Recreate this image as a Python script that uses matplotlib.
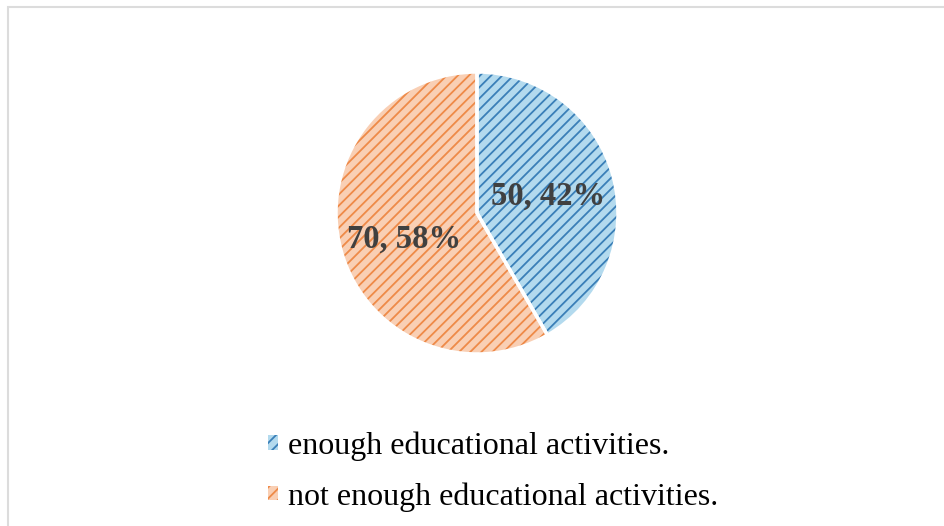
import matplotlib
matplotlib.use("Agg")
import matplotlib.pyplot as plt
from matplotlib.patches import Rectangle
from matplotlib.transforms import offset_copy

categories = ["enough educational activities.", "not enough educational activities."]
values = [50, 70]
face_colors = ["#b3daee", "#f9cfb4"]
hatch_colors = ["#3a7fb8", "#ee8a48"]

plt.rcParams['hatch.linewidth'] = 1.3

fig = plt.figure(figsize=(9.44, 5.26), dpi=100)
fig.patches.append(Rectangle((8/944, -0.1), 1.1, (526-7)/526 + 0.1, transform=fig.transFigure,
                             fill=False, edgecolor="#dcdcdc", linewidth=1.5, zorder=0))

ax = fig.add_axes([336/944, 172/526, 282/944, 282/526])

total = sum(values)
def fmt(pct):
    v = int(round(pct * total / 100.0))
    return f"{v}, {pct:.0f}%"

wedges, texts, autotexts = ax.pie(values, colors=face_colors, startangle=90, counterclock=False,
                                  autopct=fmt, pctdistance=0.52,
                                  wedgeprops=dict(linewidth=0))
for w, hc in zip(wedges, hatch_colors):
    w.set_hatch('///')
    w.set_edgecolor(hc)
    w.set_linewidth(0)

ax.pie(values, startangle=90, counterclock=False,
       wedgeprops=dict(fill=False, edgecolor="white", linewidth=2.5))

for t in autotexts:
    t.set_fontfamily("Liberation Serif")
    t.set_fontweight("bold")
    t.set_fontsize(23.5)
    t.set_color("#404040")
    t.set_zorder(10)
autotexts[1].set_transform(offset_copy(ax.transData, fig=fig, x=-2, y=-7, units='dots'))
autotexts[0].set_transform(offset_copy(ax.transData, fig=fig, x=0, y=-2, units='dots'))

ax.set_xlim(-1, 1)
ax.set_ylim(-1, 1)
ax.set_aspect('equal')
ax.axis('off')

leg = fig.legend(wedges, categories, loc='upper left', bbox_to_anchor=(255/944, 1 - 419/526),
                 frameon=False, prop=dict(family="Liberation Serif", size=23),
                 handlelength=0.33, handleheight=0.33, handletextpad=0.3,
                 labelspacing=0.65, borderaxespad=0)

fig.savefig("out.png", dpi=100)
